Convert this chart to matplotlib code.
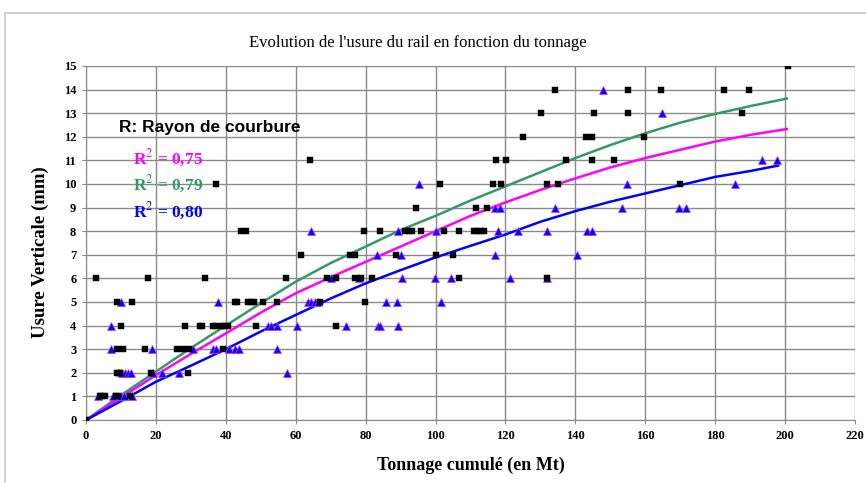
import matplotlib

matplotlib.use("Agg")
import matplotlib.pyplot as plt
from matplotlib.patches import Rectangle

# scatter points
black_x = [0, 4.0, 4.7, 5.4, 8.6, 9.2, 12.6,
           8.8, 9.3, 9.7, 18.6, 29.2,
           8.8, 10.7, 16.9, 25.9, 27.8, 29.5, 39.2,
           10, 28.3, 32.6, 33.1, 36.4, 37.1, 39, 39.8, 40.6, 48.5, 71.6,
           9, 13.3, 42.6, 43.1, 46.4, 47.3, 48, 50.5, 54.5, 66.9, 79.7,
           3, 17.8, 34, 57.3, 69, 71.6, 77.1, 78.8, 81.9, 106.6, 131.9,
           61.6, 75.4, 76.9, 88.8, 100, 105.1,
           44.3, 45.7, 79.4, 84, 91.4, 92.4, 93.3, 95.9, 102.4, 106.6, 111.1, 112, 113, 114,
           94.5, 111.6, 114.8,
           37.3, 101.4, 116.4, 118.8, 131.8, 135, 169.9,
           64, 117.3, 120.2, 137.3, 144.8, 151,
           125, 143, 144.8, 159.5,
           130.1, 145.4, 155, 187.6,
           134.3, 155, 164.4, 182.6, 189.8,
           200.7]
black_y = [0, 1, 1, 1, 1, 1, 1,
           2, 2, 2, 2, 2,
           3, 3, 3, 3, 3, 3, 3,
           4, 4, 4, 4, 4, 4, 4, 4, 4, 4, 4,
           5, 5, 5, 5, 5, 5, 5, 5, 5, 5, 5,
           6, 6, 6, 6, 6, 6, 6, 6, 6, 6, 6,
           7, 7, 7, 7, 7, 7,
           8, 8, 8, 8, 8, 8, 8, 8, 8, 8, 8, 8, 8, 8,
           9, 9, 9,
           10, 10, 10, 10, 10, 10, 10,
           11, 11, 11, 11, 11, 11,
           12, 12, 12, 12,
           13, 13, 13, 13,
           14, 14, 14, 14, 14,
           15]

blue_x = [0, 3.5, 7.6, 10, 11, 13.3,
          10.2, 11.1, 12, 13, 19.2, 21.6, 26.6, 57.5,
          7.1, 19, 30.5, 36.3, 37.3, 41, 42.6, 43.8, 54.7,
          7.1, 52, 52.8, 54.7, 60.4, 74.5, 83.5, 84.2, 89.2,
          10, 37.8, 63.4, 64.4, 65.4, 66.3, 85.9, 88.9, 101.6,
          70.2, 78.1, 90.4, 99.9, 104.5, 121.4, 131.9,
          83.3, 90, 117, 140.5,
          64.3, 89.2, 100.2, 117.8, 123.7, 131.9, 143.2, 144.9,
          116.9, 118.3, 134.1, 153.2, 169.7, 171.6,
          95.4, 154.7, 185.6,
          193.5, 197.8,
          164.8,
          147.8]
blue_y = [0, 1, 1, 1, 1, 1,
          2, 2, 2, 2, 2, 2, 2, 2,
          3, 3, 3, 3, 3, 3, 3, 3, 3,
          4, 4, 4, 4, 4, 4, 4, 4, 4,
          5, 5, 5, 5, 5, 5, 5, 5, 5,
          6, 6, 6, 6, 6, 6, 6,
          7, 7, 7, 7,
          8, 8, 8, 8, 8, 8, 8, 8,
          9, 9, 9, 9, 9, 9,
          10, 10, 10,
          11, 11,
          13,
          14]

# trend curves read every 10 Mt
curve_x = [0, 10, 20, 30, 40, 50, 60, 70, 80, 90, 100,
           110, 120, 130, 140, 150, 160, 170, 180, 190, 200.5]
green_y = [0, 1.05, 2.05, 3.05, 4.0, 4.95, 5.86, 6.65, 7.35, 8.05, 8.65,
           9.3, 9.9, 10.5, 11.1, 11.65, 12.15, 12.6, 12.97, 13.3, 13.62]
magenta_y = [0, 0.95, 1.9, 2.8, 3.67, 4.55, 5.37, 6.05, 6.7, 7.35, 8.0,
             8.65, 9.22, 9.75, 10.24, 10.7, 11.1, 11.45, 11.8, 12.08, 12.33]
blue_curve_x = [0, 10, 20, 30, 40, 50, 60, 70, 80, 90, 100,
                110, 120, 130, 140, 150, 160, 170, 180, 190, 198]
blue_curve_y = [0, 0.8, 1.62, 2.3, 3.0, 3.75, 4.45, 5.15, 5.79, 6.35, 6.89,
                7.38, 7.86, 8.4, 8.85, 9.25, 9.6, 9.95, 10.3, 10.55, 10.78]

r2_labels = ["0,75", "0,79", "0,80"]
r2_colors = ["#FF00FF", "#339966", "#0000FF"]

SERIF = "Liberation Serif"
SANS = "Liberation Sans"

fig = plt.figure(figsize=(8.66, 4.83), dpi=100)
fig.patches.append(Rectangle((5 / 866, -0.1), 1.1, (483 - 13) / 483 + 0.1,
                             transform=fig.transFigure, fill=False,
                             edgecolor="#c8c8c8", linewidth=1.2))
ax = fig.add_axes([86 / 866, 63 / 483, 769 / 866, 354 / 483])

ax.plot(curve_x, green_y, color="#339966", linewidth=1.8, zorder=3)
ax.plot(curve_x, magenta_y, color="#FF00FF", linewidth=1.8, zorder=3)
ax.plot(blue_curve_x, blue_curve_y, color="#0000FF", linewidth=1.8, zorder=3)

ax.plot(blue_x, blue_y, linestyle="none", marker="^", markersize=5.2,
        color="#0000FF", markeredgecolor="#CC33FF", markeredgewidth=0.5, zorder=4)
ax.plot(black_x, black_y, linestyle="none", marker="s", markersize=4.0,
        color="black", markeredgecolor="black", markeredgewidth=0.3, zorder=5)

ax.set_xlim(0, 220)
ax.set_ylim(0, 15)
ax.set_xticks(range(0, 221, 20))
ax.set_yticks(range(0, 16))
ax.grid(True, color="#8a8a8a", linewidth=1.0)
ax.set_axisbelow(True)
for side in ["top", "right"]:
    ax.spines[side].set_visible(False)
for side in ["left", "bottom"]:
    ax.spines[side].set_color("#8a8a8a")
ax.tick_params(axis="both", length=3, color="#8a8a8a", labelsize=9, pad=4)
for lab in ax.get_xticklabels() + ax.get_yticklabels():
    lab.set_fontfamily(SERIF)
    lab.set_fontweight("bold")

fig.text(418 / 866, 1 - 43 / 483, "Evolution de l'usure du rail en fonction du tonnage",
         ha="center", va="center", fontsize=12, family=SERIF)
ax.set_xlabel("Tonnage cumulé (en Mt)", fontsize=13, fontweight="bold",
              family=SERIF, labelpad=11)
ax.set_ylabel("Usure Verticale (mm)", fontsize=13.5, fontweight="bold",
              family=SERIF)
ax.yaxis.set_label_coords(-0.048, 0.475)

ax.text(9.5, 12.4, "R: Rayon de courbure", fontsize=12.5, fontweight="bold",
        family=SANS, va="center", ha="left")
for i, (lab, col) in enumerate(zip(r2_labels, r2_colors)):
    ax.text(13.5, 11.1 - 1.12 * i, f"R$^{{2}}$ = {lab}", fontsize=12.5,
            fontweight="bold", family=SERIF, color=col, va="center", ha="left",
            math_fontfamily="stix")

fig.savefig("out.png", dpi=100)
